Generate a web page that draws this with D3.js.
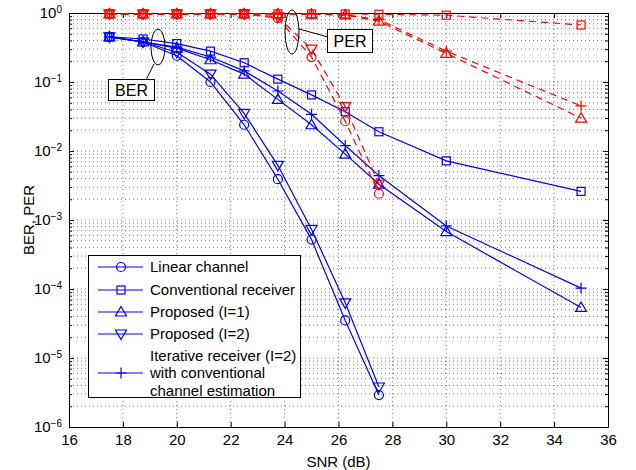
<!DOCTYPE html>
<html lang="en">
<head>
  <meta charset="UTF-8">
  <title>BER, PER vs SNR</title>
  <script src="https://d3js.org/d3.v7.min.js"></script>
  <style>
    body { margin: 0; background: #fff; }
    svg { display: block; font-family: "Liberation Sans", Arial, sans-serif; }
    .grid line { stroke: #444; stroke-width: 0.7; stroke-dasharray: 1,3; }
    .axis path, .axis line { stroke: #000; }
    .axis text { font-size: 15px; fill: #000; font-family: "Liberation Sans", Arial, sans-serif; }
  </style>
</head>
<body>
<svg width="636" height="470"></svg>
<script>
  // SNR points (dB)
  const snr = [17.5, 18.75, 20, 21.25, 22.5, 23.75, 25, 26.25, 27.5, 30, 35];

  // BER curves
  const berLinear = [0.45, 0.38, 0.24, 0.1, 0.024, 0.0039, 5.2e-4, 3.5e-5, 2.9e-6];
  const berConv   = [0.45, 0.42, 0.36, 0.28, 0.19, 0.11, 0.065, 0.037, 0.019, 0.0072, 0.0026];
  const berI1     = [0.45, 0.38, 0.31, 0.21, 0.13, 0.056, 0.024, 0.009, 0.0033, 6.8e-4, 5.4e-5];
  const berI2     = [0.45, 0.38, 0.27, 0.13, 0.035, 0.0062, 7.3e-4, 6.3e-5, 3.8e-6];
  const berIter   = [0.45, 0.38, 0.32, 0.23, 0.145, 0.074, 0.034, 0.012, 0.0044, 8.2e-4, 1.03e-4];

  // PER curves
  const perLinear = [0.97, 0.97, 0.97, 0.97, 0.97, 0.84, 0.23, 0.027, 0.0024];
  const perConv   = [0.97, 0.97, 0.97, 0.97, 0.97, 0.97, 0.97, 0.97, 0.96, 0.93, 0.67];
  const perI1     = [0.97, 0.97, 0.97, 0.97, 0.97, 0.97, 0.96, 0.94, 0.76, 0.26, 0.03];
  const perI2     = [0.97, 0.97, 0.97, 0.97, 0.97, 0.88, 0.3, 0.044, 0.0033];
  const perIter   = [0.97, 0.97, 0.97, 0.97, 0.97, 0.97, 0.96, 0.94, 0.8, 0.28, 0.045];

  const xTicks = [16, 18, 20, 22, 24, 26, 28, 30, 32, 34, 36];
  const yTicks = [1e-6, 1e-5, 1e-4, 1e-3, 1e-2, 1e-1, 1];

  const legendLabels = [
    ["Linear channel"],
    ["Conventional receiver"],
    ["Proposed (I=1)"],
    ["Proposed (I=2)"],
    ["Iterative receiver (I=2)", "with conventional", "channel estimation"]
  ];

  const svg = d3.select("svg");
  const pL = 69, pR = 608, pT = 13, pB = 427;

  const x = d3.scaleLinear().domain([16, 36]).range([pL, pR]);
  const y = d3.scaleLog().domain([1e-6, 1]).range([pB, pT]);

  const minorY = [];
  yTicks.slice(0, -1).forEach(d => { for (let k = 2; k <= 9; k++) minorY.push(d * k); });

  // Grid
  const grid = svg.append("g").attr("class", "grid");
  grid.selectAll(".gx").data(xTicks.slice(1, -1)).join("line")
      .attr("x1", d => x(d)).attr("x2", d => x(d))
      .attr("y1", pT).attr("y2", pB);
  grid.selectAll(".gy").data(minorY.concat(yTicks.slice(1, -1))).join("line")
      .attr("x1", pL).attr("x2", pR)
      .attr("y1", d => y(d)).attr("y2", d => y(d));

  // Axes (ticks pointing inward, box on)
  svg.append("g").attr("class", "axis")
      .attr("transform", `translate(0,${pB})`)
      .call(d3.axisBottom(x).tickValues(xTicks).tickSize(-5).tickPadding(7).tickSizeOuter(0));
  svg.append("g").attr("class", "axis")
      .attr("transform", `translate(0,${pT})`)
      .call(d3.axisTop(x).tickValues(xTicks).tickSize(-5).tickFormat("").tickSizeOuter(0));

  const yl = svg.append("g").attr("class", "axis")
      .attr("transform", `translate(${pL},0)`)
      .call(d3.axisLeft(y).tickValues(yTicks).tickSize(-5).tickPadding(7).tickSizeOuter(0)
        .tickFormat(""));
  yl.selectAll(".tick text").each(function(d) {
    const t = d3.select(this);
    const e = Math.round(Math.log10(d));
    t.append("tspan").text("10");
    t.append("tspan").attr("dy", "-0.5em").style("font-size", "10px")
        .text(e === 0 ? "0" : "\u2212" + Math.abs(e));
  });
  svg.append("g").attr("class", "axis")
      .attr("transform", `translate(${pL},0)`)
      .call(d3.axisLeft(y).tickValues(minorY).tickSize(-3).tickFormat("").tickSizeOuter(0))
      .select(".domain").remove();
  svg.append("g").attr("class", "axis")
      .attr("transform", `translate(${pR},0)`)
      .call(d3.axisRight(y).tickValues(yTicks).tickSize(-5).tickFormat("").tickSizeOuter(0));
  svg.append("g").attr("class", "axis")
      .attr("transform", `translate(${pR},0)`)
      .call(d3.axisRight(y).tickValues(minorY).tickSize(-3).tickFormat("").tickSizeOuter(0))
      .select(".domain").remove();

  svg.append("text").attr("x", (pL + pR) / 2).attr("y", 467)
      .attr("text-anchor", "middle").style("font-size", "15px").text("SNR (dB)");
  svg.append("text").attr("transform", `translate(34,${(pT + pB) / 2}) rotate(-90)`)
      .attr("text-anchor", "middle").style("font-size", "15px").text("BER, PER");

  // Markers
  function marker(g, type, cx, cy, color) {
    if (type === "circle") {
      g.append("circle").attr("cx", cx).attr("cy", cy).attr("r", 4.5)
        .attr("fill", "none").attr("stroke", color).attr("stroke-width", 1.2);
    } else if (type === "square") {
      g.append("rect").attr("x", cx - 4).attr("y", cy - 4).attr("width", 8).attr("height", 8)
        .attr("fill", "none").attr("stroke", color).attr("stroke-width", 1.2);
    } else if (type === "up") {
      g.append("path").attr("d", `M${cx},${cy - 5.5}L${cx + 5.5},${cy + 4}L${cx - 5.5},${cy + 4}Z`)
        .attr("fill", "none").attr("stroke", color).attr("stroke-width", 1.2);
    } else if (type === "down") {
      g.append("path").attr("d", `M${cx},${cy + 5.5}L${cx + 5.5},${cy - 4}L${cx - 5.5},${cy - 4}Z`)
        .attr("fill", "none").attr("stroke", color).attr("stroke-width", 1.2);
    } else if (type === "plus") {
      g.append("path").attr("d", `M${cx - 5.5},${cy}H${cx + 5.5}M${cx},${cy - 5.5}V${cy + 5.5}`)
        .attr("fill", "none").attr("stroke", color).attr("stroke-width", 1.2);
    }
  }

  const line = d3.line().x(d => x(d[0])).y(d => y(d[1]));

  const series = [
    { vals: berLinear, type: "circle", color: "#0000ff", dash: null },
    { vals: berConv, type: "square", color: "#0000ff", dash: null },
    { vals: berI1, type: "up", color: "#0000ff", dash: null },
    { vals: berI2, type: "down", color: "#0000ff", dash: null },
    { vals: berIter, type: "plus", color: "#0000ff", dash: null },
    { vals: perLinear, type: "circle", color: "#ff0000", dash: "7,5" },
    { vals: perConv, type: "square", color: "#ff0000", dash: "7,5" },
    { vals: perI1, type: "up", color: "#ff0000", dash: "7,5" },
    { vals: perI2, type: "down", color: "#ff0000", dash: "7,5" },
    { vals: perIter, type: "plus", color: "#ff0000", dash: "7,5" }
  ];

  const plot = svg.append("g");
  series.forEach(s => {
    const pts = s.vals.map((v, i) => [snr[i], v]);
    plot.append("path").attr("d", line(pts))
        .attr("fill", "none").attr("stroke", s.color).attr("stroke-width", 1.2)
        .attr("stroke-dasharray", s.dash);
    const g = plot.append("g");
    pts.forEach(p => marker(g, s.type, x(p[0]), y(p[1]), s.color));
  });

  // Annotations
  const ann = svg.append("g").attr("stroke", "#000").attr("stroke-width", 1);
  ann.append("ellipse").attr("cx", 158).attr("cy", 47).attr("rx", 7).attr("ry", 18).attr("fill", "none");
  ann.append("line").attr("x1", 154).attr("y1", 64).attr("x2", 146).attr("y2", 80);
  ann.append("rect").attr("x", 108.5).attr("y", 79.5).attr("width", 46).attr("height", 21).attr("fill", "#fff");
  ann.append("ellipse").attr("cx", 292).attr("cy", 32).attr("rx", 7).attr("ry", 22).attr("fill", "none");
  ann.append("line").attr("x1", 299).attr("y1", 29).attr("x2", 328).attr("y2", 37);
  ann.append("rect").attr("x", 327.5).attr("y", 29.5).attr("width", 45).attr("height", 23).attr("fill", "#fff");
  svg.append("text").attr("x", 131.5).attr("y", 96).attr("text-anchor", "middle")
      .style("font-size", "16px").text("BER");
  svg.append("text").attr("x", 350).attr("y", 47).attr("text-anchor", "middle")
      .style("font-size", "16px").text("PER");

  // Legend
  const lg = svg.append("g");
  lg.append("rect").attr("x", 88.5).attr("y", 255.5).attr("width", 212).attr("height", 142)
      .attr("fill", "#fff").attr("stroke", "#000");
  const rowsY = [267, 290, 312, 334, 373];
  const types = ["circle", "square", "up", "down", "plus"];
  legendLabels.forEach((lab, i) => {
    const cy = rowsY[i];
    lg.append("line").attr("x1", 98).attr("x2", 143).attr("y1", cy).attr("y2", cy)
        .attr("stroke", "#0000ff").attr("stroke-width", 1.2);
    marker(lg, types[i], 121, cy, "#0000ff");
    const t = lg.append("text").style("font-size", "15px");
    const y0 = cy - (lab.length - 1) / 2 * 17.5 + 5;
    lab.forEach((s, j) => t.append("tspan").attr("x", 150).attr("y", y0 + j * 17.5).text(s));
  });
</script>
</body>
</html>
